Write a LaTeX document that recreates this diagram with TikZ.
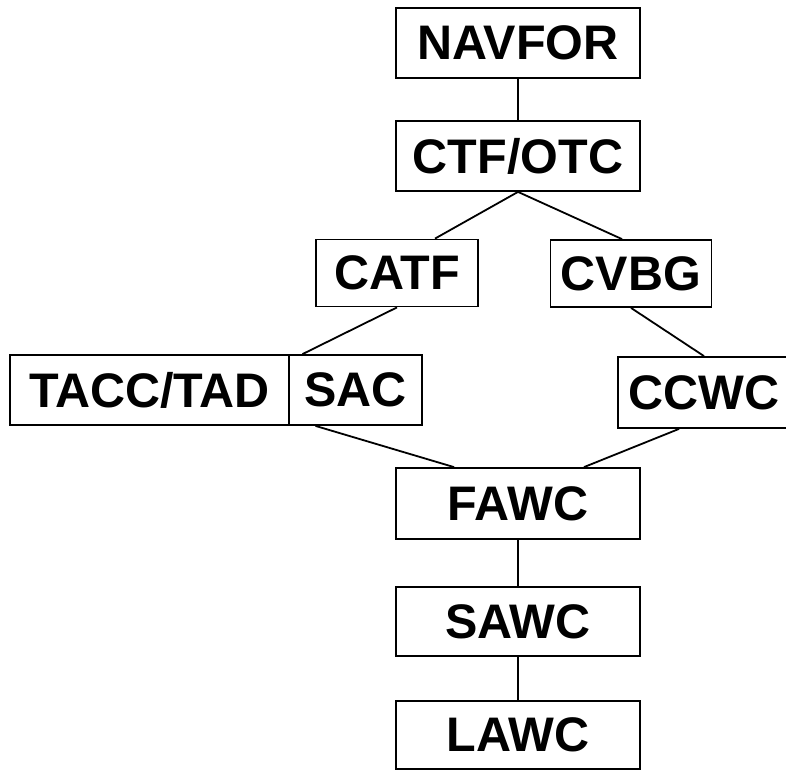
\documentclass[tikz,border=0pt]{standalone}
\usepackage{fontspec}
\setmainfont{Liberation Sans}
\tikzset{
    post/.style={draw,line width=1.8pt,minimum width=244pt,minimum height=70pt,inner sep=0pt,font=\fontsize{48.5}{56}\selectfont\bfseries},
    link/.style={line width=1.8pt}
}
\begin{document}
\begin{tikzpicture}[x=1pt,y=-1pt]
                \useasboundingbox (0,0) rectangle (786,771);
                \node[post] (NAV) at (518,43) {NAVFOR};
                \node[post] (CTF) at (518,156) {CTF/OTC};
                \node[post,minimum width=162pt,minimum height=67pt] (CATF) at (397,273) {CATF};
                \node[post,minimum width=161pt,minimum height=67pt] (CVBG) at (631,273.5) {CVBG};
                \node[post,minimum width=279pt] (TACC) at (149.5,390) {TACC/TAD};
                \node[post,minimum width=133pt] (SAC) at (355.5,390) {SAC};
                \node[post,minimum width=172pt,minimum height=71pt] (CCWC) at (704,392.5) {CCWC};
                \node[post,minimum height=71pt] (FAWC) at (518,503.5) {FAWC};
                \node[post,minimum height=69pt] (SAWC) at (518,621.5) {SAWC};
                \node[post,minimum height=68pt] (LAWC) at (518,735) {LAWC};
                \draw[link] (NAV.south) -- (CTF.north);
                \draw[link] ([xshift=38pt]CATF.north) -- (CTF.south) -- ([xshift=-9pt]CVBG.north);
                \draw[link] (CATF.south) -- ([xshift=-53pt]SAC.north);
                \draw[link] (CVBG.south) -- (CCWC.north);
                \draw[link] ([xshift=-40pt]SAC.south) -- ([xshift=-64pt]FAWC.north);
                \draw[link] ([xshift=-25pt]CCWC.south) -- ([xshift=66pt]FAWC.north);
                \draw[link] (FAWC.south) -- (SAWC.north);
                \draw[link] (SAWC.south) -- (LAWC.north);
\end{tikzpicture}
\end{document}
